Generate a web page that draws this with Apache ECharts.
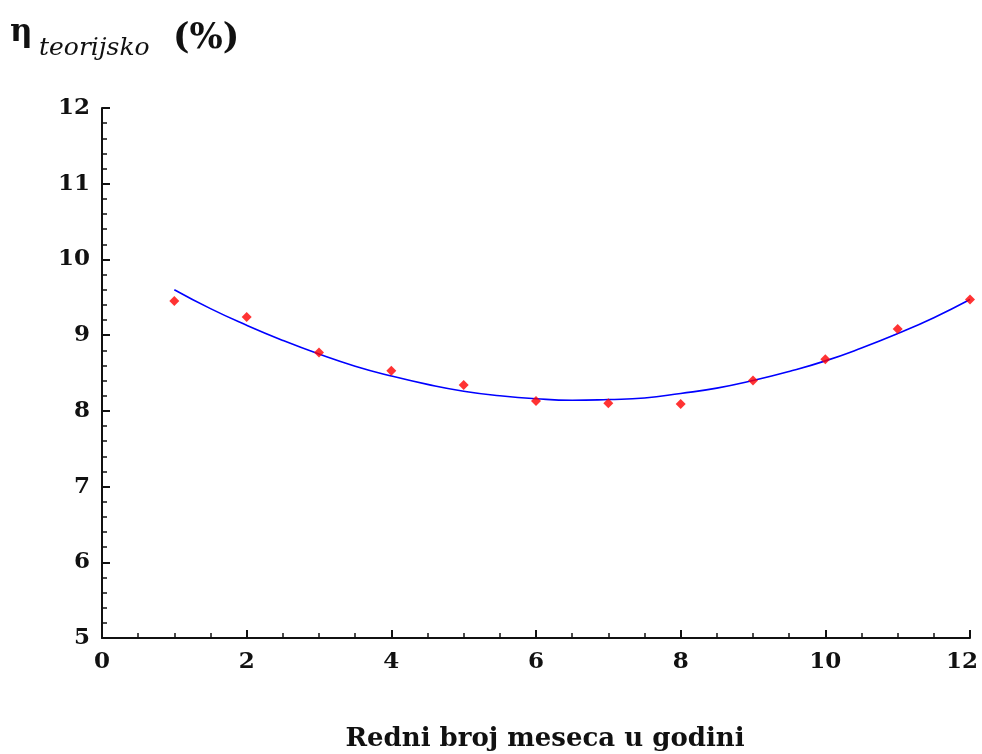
<!DOCTYPE html>
<html>
<head>
<meta charset="utf-8">
<script src="https://cdn.jsdelivr.net/npm/echarts@6/dist/echarts.min.js"></script>
<style>
  html, body { margin: 0; padding: 0; background: #ffffff; }
  #chart { width: 982px; height: 754px; }
</style>
</head>
<body>
<div id="chart"></div>
<script>
// Months of the year and the measured theoretical efficiency (%)
const months = [1, 2, 3, 4, 5, 6, 7, 8, 9, 10, 11, 12];
const efficiency = [9.45, 9.24, 8.77, 8.53, 8.34, 8.13, 8.10, 8.09, 8.40, 8.68, 9.08, 9.47];

// Fitted trend curve, sampled every half month
const fitX = [1, 1.5, 2, 2.5, 3, 3.5, 4, 4.5, 5, 5.5, 6, 6.5, 7, 7.5, 8, 8.5, 9, 9.5, 10, 10.5, 11, 11.5, 12];
const fitY = [9.60, 9.35, 9.13, 8.93, 8.75, 8.59, 8.46, 8.35, 8.26, 8.20, 8.16, 8.14, 8.15, 8.17, 8.23, 8.30, 8.40, 8.52, 8.66, 8.83, 9.02, 9.23, 9.47];

const xTicks = [0, 2, 4, 6, 8, 10, 12];
const yTicks = [5, 6, 7, 8, 9, 10, 11, 12];

const serif = '"DejaVu Serif", "Liberation Serif", serif';
const ink = '#111111';

const chart = echarts.init(document.getElementById('chart'), null, { renderer: 'canvas' });

const labelFont = { fontFamily: serif, fontWeight: 'bold', fontSize: 23, color: ink };

chart.setOption({
  backgroundColor: '#ffffff',
  animation: false,
  // y-axis heading: eta with italic subscript, then the unit
  graphic: [
    {
      type: 'text', left: 10, top: 17,
      style: { text: 'η', font: 'bold 31px ' + serif, fill: ink }
    },
    {
      type: 'text', left: 39, top: 36,
      style: { text: 'teorijsko', font: 'italic 25px ' + serif, fill: ink }
    },
    {
      type: 'text', left: 173, top: 21,
      style: { text: '(%)', font: 'bold 35px ' + serif, fill: ink }
    }
  ],
  grid: {
    left: 102,
    right: 12,
    top: 108,
    bottom: 116,
    outerBoundsMode: 'none'
  },
  xAxis: {
    type: 'value',
    min: xTicks[0],
    max: xTicks[xTicks.length - 1],
    interval: 2,
    name: 'Redni broj meseca u godini',
    nameLocation: 'middle',
    nameGap: 88,
    nameTextStyle: { fontFamily: serif, fontWeight: 'bold', fontSize: 26, color: ink, padding: [0, 0, 0, 18] },
    axisLine: { show: true, onZero: false, lineStyle: { color: ink, width: 2 } },
    axisTick: { show: true, inside: true, length: 8, lineStyle: { color: ink, width: 2 } },
    minorTick: { show: true, splitNumber: 4, length: 5, lineStyle: { color: ink, width: 1.5 } },
    splitLine: { show: false },
    axisLabel: Object.assign({
      margin: 13,
      showMinLabel: true,
      showMaxLabel: true,
      formatter: function (v) {
        return v === xTicks[xTicks.length - 1] ? '{last|' + v + '}' : String(v);
      },
      rich: {
        last: Object.assign({ padding: [0, 16, 0, 0] }, labelFont)
      }
    }, labelFont)
  },
  yAxis: {
    type: 'value',
    min: yTicks[0],
    max: yTicks[yTicks.length - 1],
    interval: 1,
    axisLine: { show: true, onZero: false, lineStyle: { color: ink, width: 2 } },
    axisTick: { show: true, inside: true, length: 8, lineStyle: { color: ink, width: 2 } },
    minorTick: { show: true, splitNumber: 5, length: 5, lineStyle: { color: ink, width: 1.5 } },
    splitLine: { show: false },
    axisLabel: Object.assign({ margin: 12 }, labelFont)
  },
  series: [
    {
      name: 'trend',
      type: 'line',
      data: fitX.map((x, i) => [x, fitY[i]]),
      smooth: true,
      showSymbol: false,
      symbol: 'none',
      lineStyle: { color: '#0000ff', width: 1.6 },
      z: 2
    },
    {
      name: 'efficiency',
      type: 'scatter',
      data: months.map((m, i) => [m, efficiency[i]]),
      symbol: 'diamond',
      symbolSize: 10,
      itemStyle: { color: '#ff0000' },
      z: 3
    }
  ]
});
</script>
</body>
</html>
